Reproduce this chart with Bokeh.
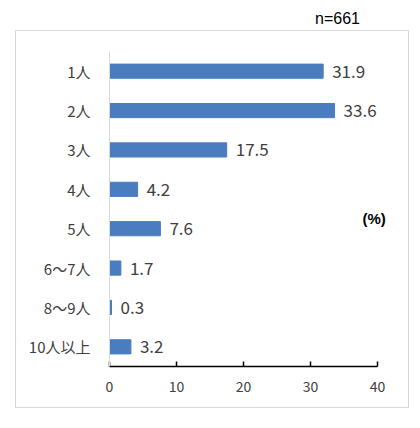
from bokeh.plotting import figure
from bokeh.models import ColumnDataSource, LabelSet, Label, FixedTicker, Div
from bokeh.layouts import column
from bokeh.core.properties import value
from bokeh.embed import file_html
from bokeh.resources import INLINE

# household size categories and share (%)
categories = ["1人", "2人", "3人", "4人", "5人", "6～7人", "8～9人", "10人以上"]
shares = [31.9, 33.6, 17.5, 4.2, 7.6, 1.7, 0.3, 3.2]
x_ticks = [0, 10, 20, 30, 40]

src = ColumnDataSource(data=dict(cat=categories, val=shares, lab=[str(v) for v in shares]))

# sample size note sits above the framed chart
note = Div(text="n=661", width=420, height=30,
           styles={"font-family": "Liberation Sans", "font-size": "16px", "color": "black",
                   "padding-left": "315px", "padding-top": "8px", "box-sizing": "border-box"})
note.margin = (0, 0, 0, 0)

# frame runs a bit past 40 so the (%) note fits; the axis line stops at 40
p = figure(width=394, height=378, y_range=list(reversed(categories)), x_range=(0, 42.7),
           output_backend="svg", toolbar_location=None,
           min_border_left=93, min_border_right=15, min_border_top=20, min_border_bottom=43)
p.margin = (0, 0, 0, 15)
p.styles = {"border": "1px solid #d9d9d9"}
p.y_range.range_padding = 0

p.hbar(y="cat", right="val", left=0, height=0.36, source=src, color="#4a7dbf")

labels = LabelSet(x="val", y="cat", text="lab", source=src, x_offset=9, text_baseline="middle",
                  text_font=value("Noto Sans CJK JP"), text_font_size="17px", text_color="#404040")
p.add_layout(labels)

p.grid.visible = False
p.outline_line_color = None

p.xaxis.bounds = (0, 40)
p.xaxis.ticker = FixedTicker(ticks=x_ticks)
p.xaxis.axis_line_color = "black"
p.xaxis.axis_line_width = 1.5
p.xaxis.major_tick_in = 5
p.xaxis.major_tick_out = 0
p.xaxis.major_tick_line_color = "black"
p.xaxis.major_tick_line_width = 1.5
p.xaxis.minor_tick_line_color = None
p.xaxis.major_label_standoff = 14
p.xaxis.major_label_text_font = "Noto Sans CJK JP"
p.xaxis.major_label_text_font_size = "14px"
p.xaxis.major_label_text_color = "#404040"

p.yaxis.axis_line_color = "#d9d9d9"
p.yaxis.major_tick_line_color = None
p.yaxis.minor_tick_line_color = None
p.yaxis.major_label_standoff = 13
p.yaxis.major_label_text_font = "Noto Sans CJK JP"
p.yaxis.major_label_text_font_size = "15px"
p.yaxis.major_label_text_color = "#404040"

p.add_layout(Label(x=253, y=148, x_units="screen", y_units="screen", text="(%)",
                   text_font="Liberation Sans", text_font_size="15px", text_font_style="bold",
                   text_color="black", text_baseline="middle"))

open("out.html", "w").write(file_html(column(note, p), INLINE))
